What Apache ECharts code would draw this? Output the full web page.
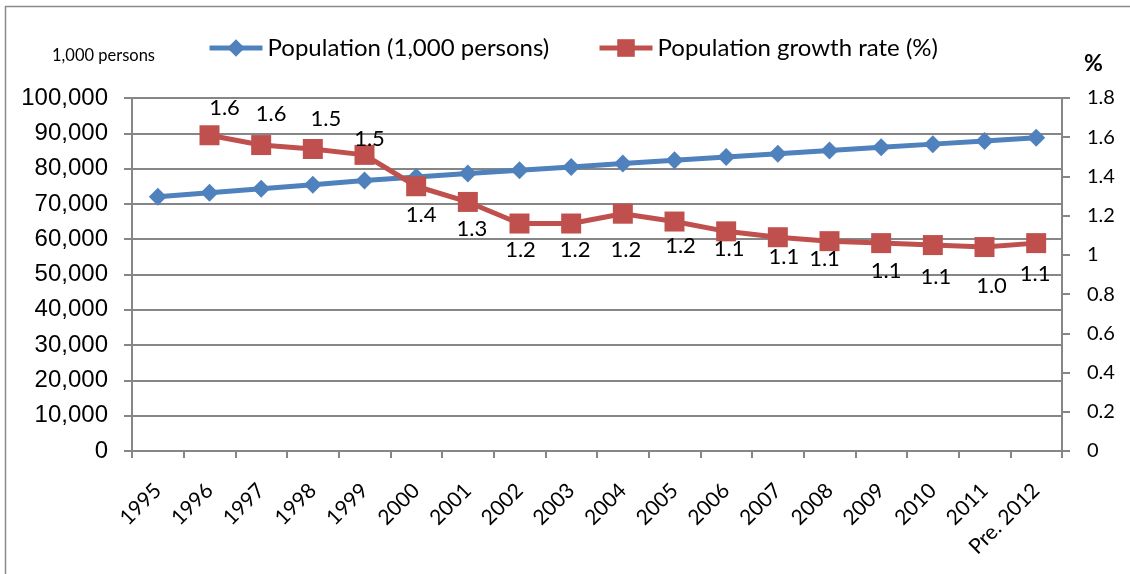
<!DOCTYPE html>
<html>
<head>
<meta charset="utf-8">
<script src="https://cdn.jsdelivr.net/npm/echarts@6/dist/echarts.min.js"></script>
<style>
  html, body { margin: 0; padding: 0; background: #fff; }
  #chart { width: 1130px; height: 574px; }
</style>
</head>
<body>
<div id="chart"></div>
<script>
// Years on the category axis
const years = ['1995', '1996', '1997', '1998', '1999', '2000', '2001', '2002', '2003',
  '2004', '2005', '2006', '2007', '2008', '2009', '2010', '2011', 'Pre. 2012'];

// Population, thousand persons
const population = [71996, 73157, 74307, 75456, 76597, 77631, 78621, 79538, 80468,
  81438, 82392, 83311, 84219, 85119, 86025, 86933, 87840, 88773];

// Annual population growth rate, % (no figure for the first year)
const growthRate = [null, 1.61, 1.56, 1.54, 1.51, 1.35, 1.27, 1.16, 1.16,
  1.21, 1.17, 1.12, 1.09, 1.07, 1.06, 1.05, 1.04, 1.06];

// Where each growth-rate label sits relative to its marker [dx, dy]
const rateLabelOffsets = [null, [15, -27], [10, -31], [13, -30], [5, -16], [5, 29], [4, 27],
  [1, 26], [4, 26], [3, 36], [6, 24], [3, 18], [6, 20], [-5, 18], [5, 28], [3, 32], [7, 39], [-1, 31]];

const seriesNames = ['Population (1,000 persons)', 'Population growth rate (%)'];

const CAL = 'Lato, "Open Sans", sans-serif';
const AXIS_GREY = '#868686';

const rateData = growthRate.map((v, i) => v === null ? null : {
  value: v,
  label: { offset: rateLabelOffsets[i] }
});

const chart = echarts.init(document.getElementById('chart'), null, { renderer: 'canvas' });

const legendBase = {
  itemWidth: 53, itemHeight: 22, top: 31,
  lineStyle: { width: 5 },
  textStyle: { fontFamily: CAL, fontSize: 24, color: '#000' }
};

chart.setOption({
  animation: false,
  backgroundColor: '#fff',
  graphic: [
    {
      type: 'rect',
      shape: { x: 5.5, y: 6.5, width: 1200, height: 700 },
      style: { fill: 'none', stroke: '#8a8a8a', lineWidth: 1.5 },
      silent: true
    },
    {
      type: 'text',
      left: 52, top: 47,
      style: { text: '1,000 persons', font: '16.5px ' + CAL, fill: '#000' }
    },
    {
      type: 'text',
      left: 1084, top: 52,
      style: { text: '%', font: 'bold 23px ' + CAL, fill: '#000' }
    }
  ],
  legend: [
    Object.assign({ data: [seriesNames[0]], left: 202 }, legendBase),
    Object.assign({ data: [seriesNames[1]], left: 592 }, legendBase)
  ],
  grid: { left: 132, right: 68, top: 98, bottom: 123, containLabel: false },
  xAxis: {
    type: 'category',
    data: years,
    boundaryGap: true,
    axisLine: { lineStyle: { color: AXIS_GREY, width: 2 } },
    axisTick: { show: true, length: 7, alignWithLabel: false, lineStyle: { color: AXIS_GREY, width: 2 } },
    axisLabel: {
      interval: 0, rotate: 45, margin: 36,
      fontFamily: CAL, fontSize: 21, color: '#000'
    },
    splitLine: { show: false }
  },
  yAxis: [
    {
      type: 'value',
      min: 0, max: 100000, interval: 10000,
      axisLine: { show: true, lineStyle: { color: AXIS_GREY, width: 2 } },
      axisTick: { show: true, length: 8, lineStyle: { color: AXIS_GREY, width: 2 } },
      axisLabel: {
        margin: 24,
        fontFamily: '"Liberation Sans", Arial, sans-serif', fontSize: 24, color: '#000',
        formatter: v => v.toLocaleString('en-US')
      },
      splitLine: { show: true, lineStyle: { color: AXIS_GREY, width: 2 } }
    },
    {
      type: 'value',
      min: 0, max: 1.8, interval: 0.2,
      position: 'right',
      axisLine: { show: true, lineStyle: { color: AXIS_GREY, width: 2 } },
      axisTick: { show: true, length: 8, lineStyle: { color: AXIS_GREY, width: 2 } },
      axisLabel: {
        margin: 25,
        fontFamily: CAL, fontSize: 20, color: '#000',
        formatter: v => (Math.round(v * 10) / 10).toString()
      },
      splitLine: { show: false }
    }
  ],
  series: [
    {
      name: seriesNames[0],
      type: 'line',
      yAxisIndex: 0,
      data: population,
      color: '#4F81BD',
      symbol: 'diamond',
      symbolSize: 18,
      lineStyle: { width: 5, color: '#4F81BD' },
      itemStyle: { color: '#4F81BD' },
      z: 2
    },
    {
      name: seriesNames[1],
      type: 'line',
      yAxisIndex: 1,
      data: rateData,
      color: '#C0504D',
      symbol: 'rect',
      symbolSize: 20,
      lineStyle: { width: 5, color: '#C0504D' },
      itemStyle: { color: '#C0504D' },
      label: {
        show: true,
        position: 'inside',
        fontFamily: CAL, fontSize: 22, color: '#000',
        formatter: p => (Math.round(p.value * 10) / 10).toFixed(1)
      },
      z: 3
    }
  ]
});
</script>
</body>
</html>
